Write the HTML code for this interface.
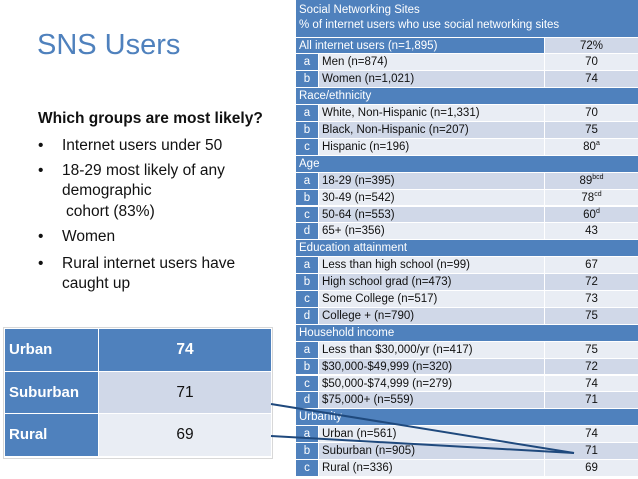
<!DOCTYPE html>
<html><head><meta charset="utf-8">
<style>
body{margin:0;width:638px;height:479px;background:#fff;position:relative;overflow:hidden;font-family:"Liberation Sans",sans-serif}
.t{position:absolute;white-space:nowrap}
.c{position:absolute;box-sizing:border-box;font-size:11.5px;color:#111;line-height:16px;padding-left:3px;overflow:hidden;white-space:nowrap}
.blue{background:#4f81bd;color:#fff}
.l1{background:#e9edf4}.l2{background:#d0d8e8}
sup{font-size:7px;vertical-align:5px;line-height:0}
.bl{position:absolute;font-size:15.5px;color:#111}
</style></head><body>
<div class="t" style="left:37px;top:29px;font-size:29px;color:#4f81bd">SNS Users</div>
<div class="t" style="left:38px;top:110px;font-size:15.5px;font-weight:bold;color:#111">Which groups are most likely?</div>
<div>
<div class="bl" style="left:38px;top:137px">•</div><div class="bl" style="left:62px;top:137px">Internet users under 50</div>
<div class="bl" style="left:38px;top:162px">•</div><div class="bl" style="left:62px;top:162px">18-29 most likely of any</div>
<div class="bl" style="left:62px;top:182px">demographic</div>
<div class="bl" style="left:66px;top:203px">cohort (83%)</div>
<div class="bl" style="left:38px;top:228px">•</div><div class="bl" style="left:62px;top:228px">Women</div>
<div class="bl" style="left:38px;top:255px">•</div><div class="bl" style="left:62px;top:255px">Rural internet users have</div>
<div class="bl" style="left:62px;top:275px">caught up</div>
</div>

<div style="position:absolute;left:3px;top:327px;width:270px;height:132px;border:1px solid #d8d8d8;box-sizing:border-box"></div>
<div id="small"></div>

<div class="c blue" style="left:296px;top:0;width:342px;height:37px;font-size:11.5px;line-height:15px;padding-top:3px">Social Networking Sites<br>% of internet users who use social networking sites</div>
<div id="main"></div>

<svg width="638" height="479" style="position:absolute;left:0;top:0">
<line x1="271" y1="404" x2="574" y2="453" stroke="#1f497d" stroke-width="2"/>
<line x1="271" y1="436" x2="574" y2="453" stroke="#1f497d" stroke-width="2"/>
</svg>

<script>
const rowLabels=["All internet users (n=1,895)","Men (n=874)","Women (n=1,021)","Race/ethnicity","White, Non-Hispanic (n=1,331)","Black, Non-Hispanic (n=207)","Hispanic (n=196)","Age","18-29 (n=395)","30-49 (n=542)","50-64 (n=553)","65+ (n=356)","Education attainment","Less than high school (n=99)","High school grad (n=473)","Some College (n=517)","College + (n=790)","Household income","Less than $30,000/yr (n=417)","$30,000-$49,999 (n=320)","$50,000-$74,999 (n=279)","$75,000+ (n=559)","Urbanity","Urban (n=561)","Suburban (n=905)","Rural (n=336)"];
const rowLetters=["*","a","b","","a","b","c","","a","b","c","d","","a","b","c","d","","a","b","c","d","","a","b","c"];
const rowValues=["72%","70","74","","70","75","80","","89","78","60","43","","67","72","73","75","","75","72","74","71","","74","71","69"];
const rowSups=["","","","","","","a","","bcd","cd","d","","","","","","","","","","","","","","",""];
const rowShade=[0,1,2,0,1,2,1,0,2,1,2,1,0,1,2,1,2,0,1,2,1,2,0,1,2,1];
const smallCats=["Urban","Suburban","Rural"];
const smallVals=[74,71,69];

const main=document.getElementById('main');
const top0=37.5,rh=16.9;
function cell(cls,x,y,w,h,html){const d=document.createElement('div');d.className='c '+cls;d.style.left=x+'px';d.style.top=y+'px';d.style.width=w+'px';d.style.height=h+'px';d.innerHTML=html;main.appendChild(d);return d;}
rowLabels.forEach((lab,i)=>{
  const y=top0+i*rh,h=rh-1;
  if(rowLetters[i]===""){
    const d=cell('blue',296,y,342,h,lab);
    
    
    return;
  }
  if(rowLetters[i]==="*"){
    const d=cell('blue',296,y,248,h,lab);
    
    
    const v=cell('l2',545,y,93,h,rowValues[i]);v.style.textAlign='center';v.style.paddingLeft='0';
    
    
    return;
  }
  const bg=rowShade[i]===2?'l2':'l1';
  const a=cell('blue',296,y,22,h,rowLetters[i]);a.style.textAlign='center';a.style.paddingLeft='0';
  
  
  const l=cell(bg,319,y,225,h,lab);
  
  
  const v=cell(bg,545,y,93,h,rowValues[i]+(rowSups[i]?'<sup>'+rowSups[i]+'</sup>':''));v.style.textAlign='center';v.style.paddingLeft='0';
  
  
});
const small=document.getElementById('small');
smallCats.forEach((c,i)=>{
  const y=329+i*42.7,h=41.5;
  const a=document.createElement('div');a.className='c blue';
  a.style.cssText+=`left:5px;top:${y}px;width:93px;height:${h}px;line-height:${h}px;font-size:15px;font-weight:bold;padding-left:4px`;
  a.textContent=c;
  
  
  small.appendChild(a);
  const b=document.createElement('div');b.className='c '+(i===0?'blue':(i===1?'l2':'l1'));
  b.style.cssText+=`left:99px;top:${y}px;width:172px;height:${h}px;line-height:${h}px;font-size:15.5px;text-align:center;padding-left:0;${i===0?'font-weight:bold':''}`;
  b.textContent=smallVals[i];
  
  
  small.appendChild(b);
});
</script>
</body></html>
